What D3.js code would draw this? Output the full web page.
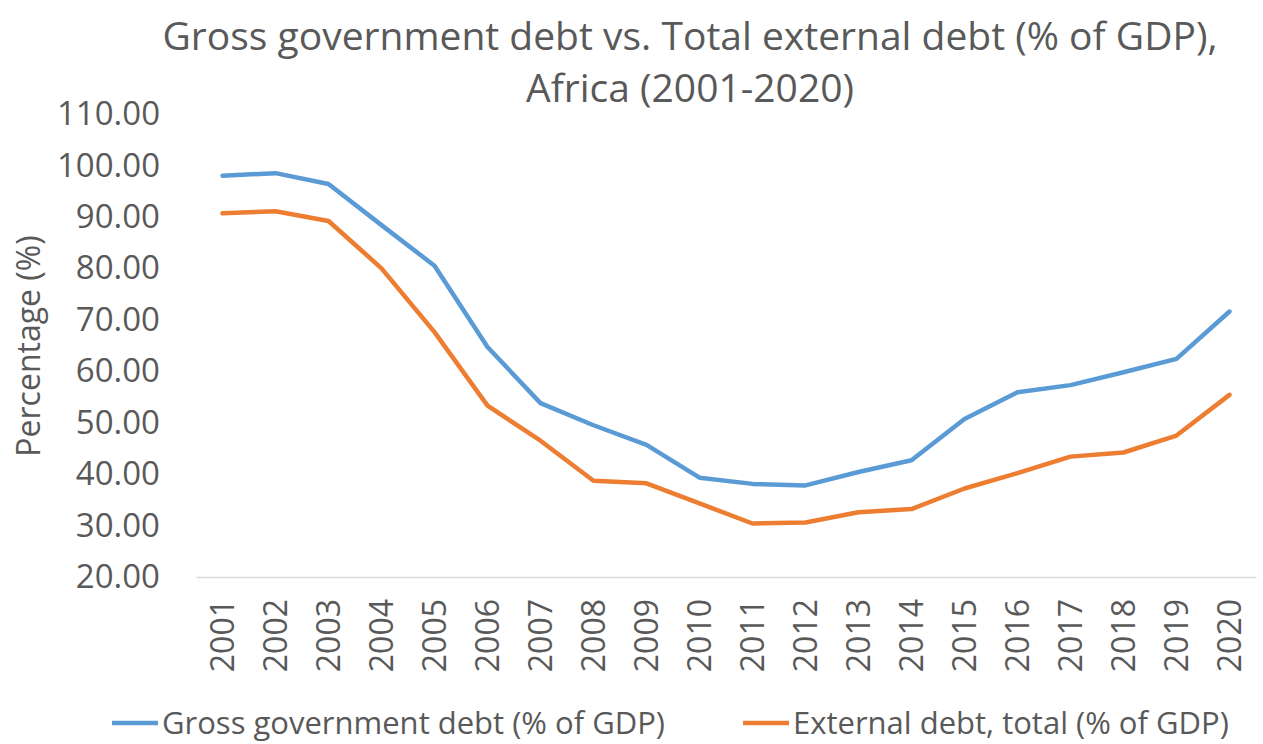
<!DOCTYPE html>
<html>
<head>
<meta charset="utf-8">
<script src="https://cdn.jsdelivr.net/npm/d3@7"></script>
<style>
  body { margin: 0; background: #fff; }
  svg text { font-family: "Open Sans", "Noto Sans", sans-serif; fill: #595959; }
</style>
</head>
<body>
<div class="chart"></div>
<script>
// data
const years = ['2001','2002','2003','2004','2005','2006','2007','2008','2009','2010',
               '2011','2012','2013','2014','2015','2016','2017','2018','2019','2020'];
const grossDebt = [98.0, 98.5, 96.4, 88.4, 80.5, 64.7, 53.8, 49.5, 45.7, 39.3,
                   38.1, 37.8, 40.4, 42.7, 50.7, 55.9, 57.3, 59.8, 62.4, 71.6];
const externalDebt = [90.7, 91.1, 89.2, 80.0, 67.6, 53.3, 46.5, 38.7, 38.2, 34.3,
                      30.4, 30.6, 32.6, 33.2, 37.2, 40.2, 43.4, 44.2, 47.5, 55.4];
const yTicks = [20, 30, 40, 50, 60, 70, 80, 90, 100, 110];
const seriesNames = ['Gross government debt (% of GDP)', 'External debt, total (% of GDP)'];
const seriesColors = ['#5B9BD5', '#ED7D31'];

const svg_width = 1263, svg_height = 744;
const margin = {top: 114, right: 7, bottom: 167, left: 196};
const chart_width = svg_width - margin.left - margin.right;
const chart_height = svg_height - margin.top - margin.bottom;

const svg = d3.select('.chart').append('svg')
    .attr('width', svg_width).attr('height', svg_height);

// title
const title = svg.append('text')
    .attr('text-anchor', 'middle')
    .style('font-size', '39px');
title.append('tspan').attr('x', 690).attr('y', 50)
    .text('Gross government debt vs. Total external debt (% of GDP),');
title.append('tspan').attr('x', 690).attr('y', 102)
    .text('Africa (2001-2020)');

const g = svg.append('g').attr('transform', `translate(${margin.left},${margin.top})`);

const xScale = d3.scaleBand().domain(years).range([0, chart_width]);
const yScale = d3.scaleLinear().domain([20, 110]).range([chart_height, 0]);

// y axis (labels only)
const yAxis = d3.axisLeft(yScale).tickValues(yTicks)
    .tickFormat(d3.format('.2f')).tickSize(0).tickPadding(36);
g.append('g').attr('class', 'y axis').call(yAxis)
    .call(a => a.select('.domain').remove())
    .selectAll('text').style('font-size', '33px').attr('fill', '#595959');

// x axis
const xAxis = d3.axisBottom(xScale).tickSize(0).tickSizeOuter(0);
const xAxisDraw = g.append('g').attr('class', 'x axis')
    .attr('transform', `translate(0,${chart_height})`)
    .call(xAxis);
xAxisDraw.select('.domain').attr('stroke', '#d9d9d9').attr('stroke-width', 1.5);
xAxisDraw.selectAll('text')
    .style('font-size', '32px').attr('fill', '#595959')
    .attr('transform', 'rotate(-90)')
    .attr('text-anchor', 'end')
    .attr('x', -22).attr('y', 0).attr('dy', '0.35em');

// lines
const line = d3.line()
    .x((d, i) => xScale(years[i]) + xScale.bandwidth() / 2)
    .y(d => yScale(d));
[grossDebt, externalDebt].forEach((s, k) => {
    g.append('path').datum(s)
        .attr('fill', 'none')
        .attr('stroke', seriesColors[k])
        .attr('stroke-width', 4.5)
        .attr('stroke-linejoin', 'round')
        .attr('stroke-linecap', 'round')
        .attr('d', line);
});

// y label
svg.append('text')
    .attr('transform', 'translate(40,346) rotate(-90)')
    .attr('text-anchor', 'middle')
    .style('font-size', '32px')
    .text('Percentage (%)');

// legend
const legendX = [112, 743];
seriesNames.forEach((name, k) => {
    const lg = svg.append('g').attr('transform', `translate(${legendX[k]},723)`);
    lg.append('line').attr('x1', 0).attr('x2', 46).attr('y1', 0).attr('y2', 0)
        .attr('stroke', seriesColors[k]).attr('stroke-width', 4.5);
    lg.append('text').attr('x', 50).attr('y', 0).attr('dy', '0.35em')
        .style('font-size', '31px').text(name);
});
</script>
</body>
</html>
